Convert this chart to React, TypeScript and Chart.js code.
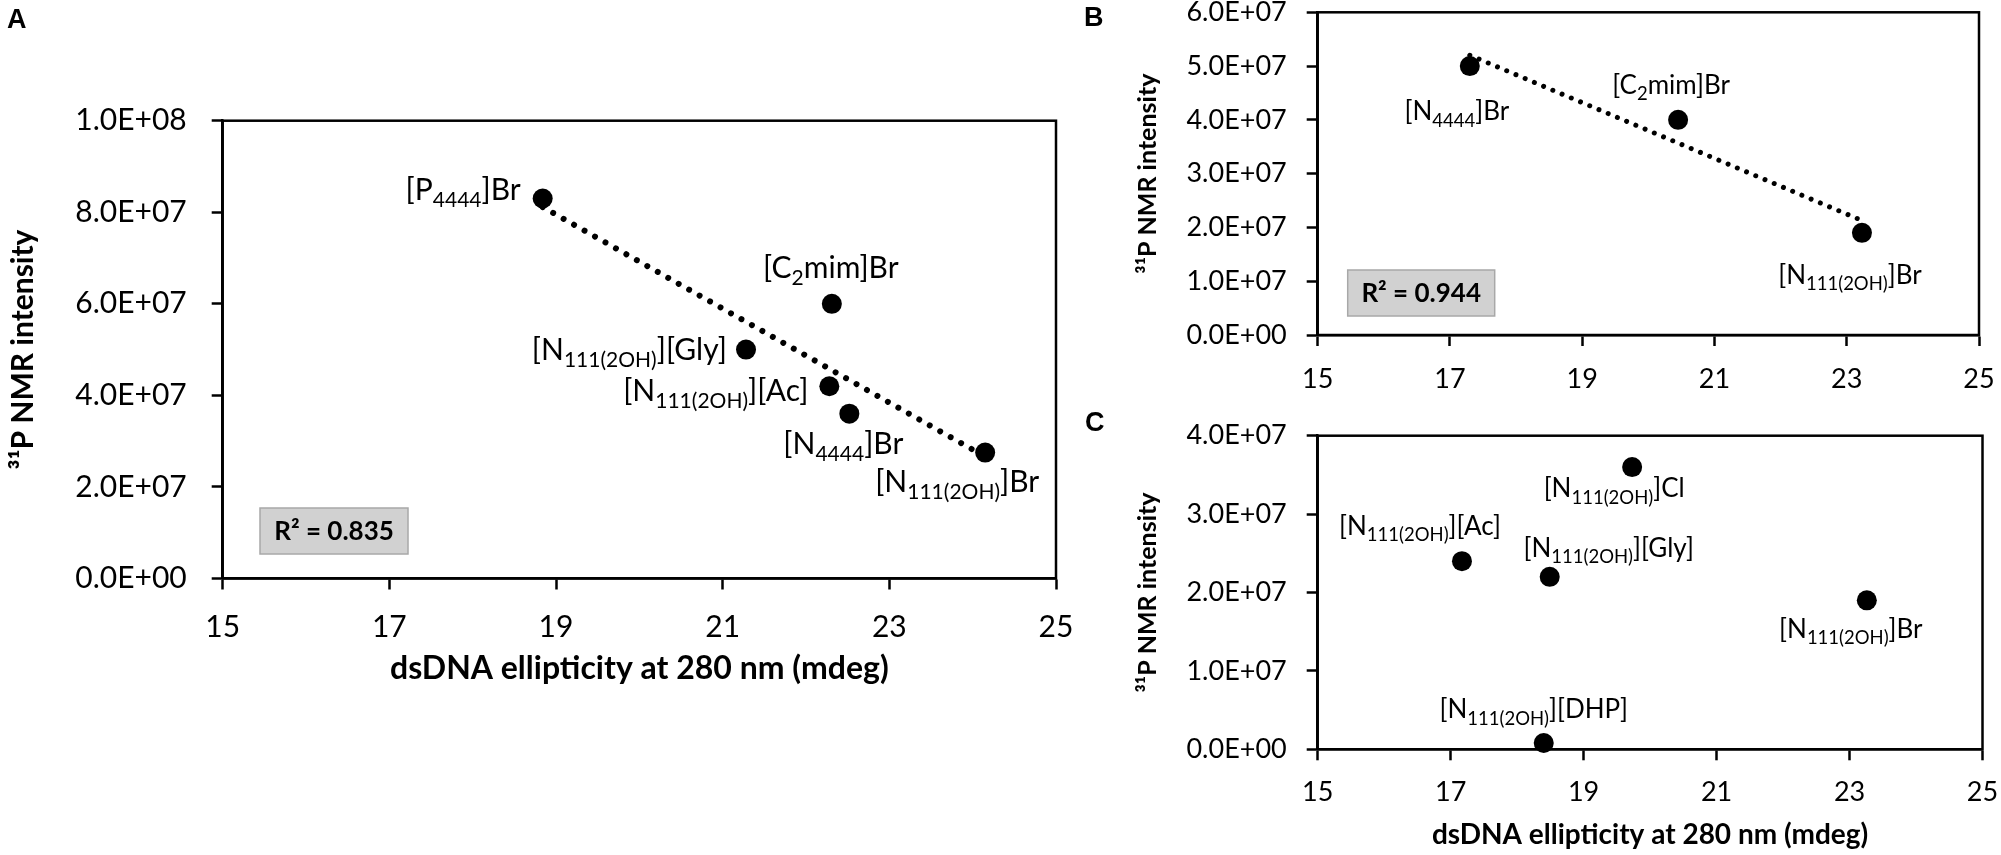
import { useEffect, useRef } from 'react';
import { Chart, registerables } from 'chart.js';

Chart.register(...registerables);
Chart.defaults.font.family = 'Lato, sans-serif';
Chart.defaults.color = '#000';

// shared x axis (dsDNA ellipticity, mdeg)
const ellipticityTicks = [15, 17, 19, 21, 23, 25];
const xTitleText = 'dsDNA ellipticity at 280 nm (mdeg)';
const yTitleText = '³¹P NMR intensity';

// panel A
const panelANames = ['[P_{4444}]Br', '[C_{2}mim]Br', '[N_{111(2OH)}][Gly]', '[N_{111(2OH)}][Ac]', '[N_{4444}]Br', '[N_{111(2OH)}]Br'];
const panelAEllipticity = [18.84, 22.31, 21.28, 22.28, 22.52, 24.15];
const panelAIntensity = [8.3e7, 6.0e7, 5.0e7, 4.2e7, 3.6e7, 2.75e7];
const panelAIntensityTicks = [0, 2e7, 4e7, 6e7, 8e7, 1e8];
const panelARSquared = 'R² = 0.835';

// panel B
const panelBNames = ['[N_{4444}]Br', '[C_{2}mim]Br', '[N_{111(2OH)}]Br'];
const panelBEllipticity = [17.3, 20.45, 23.23];
const panelBIntensity = [5.0e7, 4.0e7, 1.9e7];
const panelBIntensityTicks = [0, 1e7, 2e7, 3e7, 4e7, 5e7, 6e7];
const panelBRSquared = 'R² = 0.944';

// panel C
const panelCNames = ['[N_{111(2OH)}][Ac]', '[N_{111(2OH)}][Gly]', '[N_{111(2OH)}]Cl', '[N_{111(2OH)}]Br', '[N_{111(2OH)}][DHP]'];
const panelCEllipticity = [17.17, 18.49, 19.73, 23.26, 18.4];
const panelCIntensity = [2.4e7, 2.2e7, 3.6e7, 1.9e7, 0.08e7];
const panelCIntensityTicks = [0, 1e7, 2e7, 3e7, 4e7];

type Align = 'start' | 'center' | 'end';
interface Placement { align: Align; dx: number; dy: number }

// where each data label sits relative to its point
const panelAPlacement: Placement[] = [
  { align: 'end', dx: -22, dy: -8 },
  { align: 'center', dx: -1, dy: -35 },
  { align: 'end', dx: -19, dy: 1 },
  { align: 'end', dx: -21, dy: 5 },
  { align: 'center', dx: -6, dy: 31 },
  { align: 'center', dx: -28, dy: 30 },
];
const panelBPlacement: Placement[] = [
  { align: 'center', dx: -13, dy: 46 },
  { align: 'center', dx: -7, dy: -34 },
  { align: 'center', dx: -12, dy: 43 },
];
const panelCPlacement: Placement[] = [
  { align: 'center', dx: -42, dy: -35 },
  { align: 'center', dx: 59, dy: -28 },
  { align: 'center', dx: -18, dy: 22 },
  { align: 'center', dx: -16, dy: 29 },
  { align: 'center', dx: -10, dy: -33 },
];

interface PanelSpec {
  names: string[];
  xs: number[];
  ys: number[];
  yTicks: number[];
  rSquared?: string;
  placement: Placement[];
  left: number;
  top: number;
  width: number;
  height: number;
  padTop: number;
  padRight: number;
  yAxisWidth: number;
  xAxisHeight: number;
  tickSize: number;
  yTickPad: number;
  xTickPad: number;
  yTitleSize: number;
  yTitlePad: number;
  xTitleSize?: number;
  xTitlePad?: number;
  labelSize: number;
  subSize: number;
  trendWidth: number;
  trendGap: number;
  box?: { dx: number; dyBottom: number; w: number; h: number };
}

function formatSci(v: number) {
  const [m, e] = v.toExponential(1).split('e');
  const sign = e[0] === '-' ? '-' : '+';
  return `${m}E${sign}${e.replace(/^[+-]/, '').padStart(2, '0')}`;
}

function parseName(name: string) {
  const parts: { text: string; sub: boolean }[] = [];
  const re = /_\{([^}]*)\}/g;
  let last = 0;
  let m: RegExpExecArray | null;
  while ((m = re.exec(name))) {
    if (m.index > last) parts.push({ text: name.slice(last, m.index), sub: false });
    parts.push({ text: m[1], sub: true });
    last = re.lastIndex;
  }
  if (last < name.length) parts.push({ text: name.slice(last), sub: false });
  return parts;
}

function linearFit(xs: number[], ys: number[]) {
  const n = xs.length;
  const mx = xs.reduce((a, b) => a + b, 0) / n;
  const my = ys.reduce((a, b) => a + b, 0) / n;
  let sxy = 0;
  let sxx = 0;
  xs.forEach((x, i) => {
    sxy += (x - mx) * (ys[i] - my);
    sxx += (x - mx) * (x - mx);
  });
  const slope = sxy / sxx;
  return (x: number) => my + slope * (x - mx);
}

function panelPlugin(spec: PanelSpec) {
  return {
    id: 'panelExtras',
    beforeDatasetsDraw(chart: Chart) {
      const { ctx, chartArea: a } = chart;
      ctx.save();
      ctx.strokeStyle = '#000';
      ctx.lineWidth = 2.5;
      ctx.strokeRect(a.left, a.top, a.right - a.left, a.bottom - a.top);
      if (spec.box && spec.rSquared) {
        const b = spec.box;
        const bx = a.left + b.dx;
        const by = a.bottom - b.dyBottom - b.h;
        ctx.fillStyle = '#d1d1d1';
        ctx.fillRect(bx, by, b.w, b.h);
        ctx.strokeStyle = '#a8a8a8';
        ctx.lineWidth = 1.5;
        ctx.strokeRect(bx, by, b.w, b.h);
        ctx.fillStyle = '#000';
        ctx.font = 'bold 26px Lato';
        ctx.textAlign = 'center';
        ctx.textBaseline = 'middle';
        ctx.fillText(spec.rSquared, bx + b.w / 2, by + b.h / 2 + 1);
      }
      ctx.restore();
    },
    afterDatasetsDraw(chart: Chart) {
      const { ctx } = chart;
      const meta = chart.getDatasetMeta(0);
      const mainFont = `${spec.labelSize}px Lato`;
      const subFont = `${spec.subSize}px Lato`;
      ctx.save();
      ctx.fillStyle = '#000';
      ctx.textAlign = 'left';
      ctx.textBaseline = 'middle';
      meta.data.forEach((pt, i) => {
        const place = spec.placement[i];
        const parts = parseName(spec.names[i]);
        const widths = parts.map((p) => {
          ctx.font = p.sub ? subFont : mainFont;
          return ctx.measureText(p.text).width;
        });
        const total = widths.reduce((s, w) => s + w, 0);
        let x = pt.x + place.dx;
        if (place.align === 'center') x -= total / 2;
        if (place.align === 'end') x -= total;
        const y = pt.y + place.dy;
        parts.forEach((p, k) => {
          ctx.font = p.sub ? subFont : mainFont;
          ctx.fillText(p.text, x, p.sub ? y + spec.labelSize * 0.33 : y);
          x += widths[k];
        });
      });
      ctx.restore();
    },
  };
}

function Panel({ spec }: { spec: PanelSpec }) {
  const canvasRef = useRef<HTMLCanvasElement>(null);

  useEffect(() => {
    const canvas = canvasRef.current;
    if (!canvas) return undefined;

    const points = spec.xs.map((x, i) => ({ x, y: spec.ys[i] }));
    const datasets: any[] = [
      {
        type: 'scatter',
        data: points,
        pointRadius: 10,
        pointBorderWidth: 0,
        pointBackgroundColor: '#000',
        clip: false,
      },
    ];
    if (spec.rSquared) {
      const fit = linearFit(spec.xs, spec.ys);
      const x0 = Math.min(...spec.xs);
      const x1 = Math.max(...spec.xs);
      datasets.push({
        type: 'line',
        data: [
          { x: x0, y: fit(x0) },
          { x: x1, y: fit(x1) },
        ],
        borderColor: '#000',
        borderWidth: spec.trendWidth,
        borderDash: [0.01, spec.trendGap],
        borderCapStyle: 'round',
        pointRadius: 0,
        clip: false,
      });
    }

    const grid = { drawOnChartArea: false, tickLength: 11, tickWidth: 2.5, tickColor: '#000' };
    const border = { color: '#000', width: 2.5 };

    const chart = new Chart(canvas, {
      type: 'scatter',
      data: { datasets },
      plugins: [panelPlugin(spec)],
      options: {
        responsive: false,
        animation: false,
        events: [],
        layout: { padding: { top: spec.padTop, right: spec.padRight, left: 0, bottom: 0 } },
        plugins: { legend: { display: false }, tooltip: { enabled: false } },
        scales: {
          x: {
            type: 'linear',
            min: ellipticityTicks[0],
            max: ellipticityTicks[ellipticityTicks.length - 1],
            afterBuildTicks: (s: any) => {
              s.ticks = ellipticityTicks.map((value) => ({ value }));
            },
            afterFit: (s: any) => {
              s.height = spec.xAxisHeight;
              s.paddingLeft = 0;
              s.paddingRight = 0;
            },
            ticks: { font: { size: spec.tickSize }, padding: spec.xTickPad, color: '#000', maxRotation: 0 },
            grid,
            border,
            title: {
              display: !!spec.xTitleSize,
              text: xTitleText,
              color: '#000',
              font: { size: spec.xTitleSize ?? 12, weight: 'bold' },
              padding: { top: 0, bottom: spec.xTitlePad ?? 0 },
            },
          },
          y: {
            type: 'linear',
            min: spec.yTicks[0],
            max: spec.yTicks[spec.yTicks.length - 1],
            afterBuildTicks: (s: any) => {
              s.ticks = spec.yTicks.map((value) => ({ value }));
            },
            afterFit: (s: any) => {
              s.width = spec.yAxisWidth;
              s.paddingTop = 0;
              s.paddingBottom = 0;
            },
            ticks: {
              font: { size: spec.tickSize },
              padding: spec.yTickPad,
              color: '#000',
              callback: (v: any) => formatSci(Number(v)),
            },
            grid,
            border,
            title: {
              display: true,
              text: yTitleText,
              color: '#000',
              font: { size: spec.yTitleSize, weight: 'bold' },
              padding: { top: spec.yTitlePad, bottom: 0 },
            },
          },
        },
      } as any,
    });

    return () => {
      chart.destroy();
    };
  }, [spec]);

  return (
    <canvas
      ref={canvasRef}
      width={spec.width}
      height={spec.height}
      style={{ position: 'absolute', left: spec.left, top: spec.top, width: spec.width, height: spec.height }}
    />
  );
}

const panelA: PanelSpec = {
  names: panelANames,
  xs: panelAEllipticity,
  ys: panelAIntensity,
  yTicks: panelAIntensityTicks,
  rSquared: panelARSquared,
  placement: panelAPlacement,
  left: 0,
  top: 0,
  width: 1100,
  height: 720,
  padTop: 120.7,
  padRight: 44,
  yAxisWidth: 222.7,
  xAxisHeight: 141.5,
  tickSize: 30,
  yTickPad: 25,
  xTickPad: 20,
  yTitleSize: 30,
  yTitlePad: 5,
  xTitleSize: 32,
  xTitlePad: 32,
  labelSize: 30,
  subSize: 21,
  trendWidth: 6,
  trendGap: 12,
  box: { dx: 37.3, dyBottom: 24.5, w: 148, h: 46 },
};

const panelB: PanelSpec = {
  names: panelBNames,
  xs: panelBEllipticity,
  ys: panelBIntensity,
  yTicks: panelBIntensityTicks,
  rSquared: panelBRSquared,
  placement: panelBPlacement,
  left: 1040,
  top: 0,
  width: 961,
  height: 400,
  padTop: 12.3,
  padRight: 22,
  yAxisWidth: 277.7,
  xAxisHeight: 65,
  tickSize: 27,
  yTickPad: 20,
  xTickPad: 17,
  yTitleSize: 25,
  yTitlePad: 93,
  labelSize: 26,
  subSize: 18.5,
  trendWidth: 5,
  trendGap: 10,
  box: { dx: 30, dyBottom: 19, w: 147, h: 46 },
};

const panelC: PanelSpec = {
  names: panelCNames,
  xs: panelCEllipticity,
  ys: panelCIntensity,
  yTicks: panelCIntensityTicks,
  placement: panelCPlacement,
  left: 1040,
  top: 400,
  width: 961,
  height: 455,
  padTop: 35.7,
  padRight: 18.5,
  yAxisWidth: 277.7,
  xAxisHeight: 105.7,
  tickSize: 27,
  yTickPad: 20,
  xTickPad: 16,
  yTitleSize: 25,
  yTitlePad: 93,
  xTitleSize: 28,
  xTitlePad: 3,
  labelSize: 26,
  subSize: 18.5,
  trendWidth: 5,
  trendGap: 10,
};

const letterStyle = {
  position: 'absolute' as const,
  fontFamily: '"Liberation Sans", Arial, sans-serif',
  fontWeight: 'bold' as const,
  fontSize: 27,
  lineHeight: 1,
  color: '#000',
};

export default function App() {
  return (
    <div style={{ position: 'absolute', left: 0, top: 0, width: 2001, height: 855, background: '#fff', overflow: 'hidden' }}>
      <Panel spec={panelA} />
      <Panel spec={panelB} />
      <Panel spec={panelC} />
      <div style={{ ...letterStyle, left: 7, top: 6 }}>A</div>
      <div style={{ ...letterStyle, left: 1084, top: 4 }}>B</div>
      <div style={{ ...letterStyle, left: 1085, top: 409 }}>C</div>
    </div>
  );
}
